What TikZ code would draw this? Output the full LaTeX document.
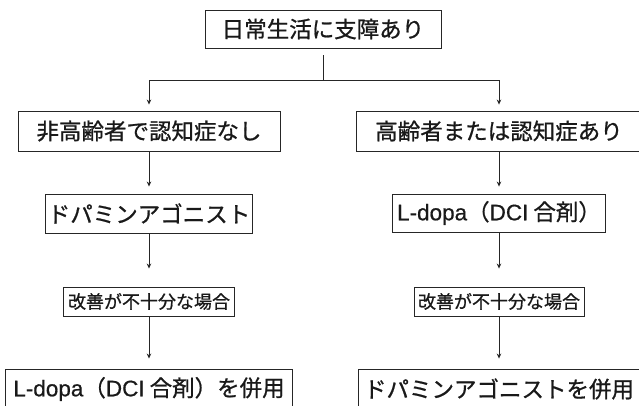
\documentclass[tikz,border=0pt]{standalone}
\usepackage{fontspec}
\setmainfont{Noto Sans CJK JP}[FakeBold=0.8]
\newfontfamily\lat{Liberation Sans}[FakeBold=0.6]
\usetikzlibrary{arrows.meta}
\newcommand{\Ldopa}{{\lat L-dopa}（{\lat DCI} 合剤）}
\begin{document}
\begin{tikzpicture}[x=1pt,y=1pt,
  box/.style={draw=black!85, line width=0.9pt, inner sep=0pt, anchor=center,
    font=\fontsize{22.5}{26}\selectfont, text=black!90},
  smallbox/.style={box, font=\fontsize{18}{21}\selectfont},
  conn/.style={draw=black!85, line width=0.8pt},
  arr/.style={conn, -{Stealth[length=5pt,width=4.5pt]}}]
\clip (0,0) rectangle (639,406);
\useasboundingbox (0,0) rectangle (639,406);
\fill[white] (0,0) rectangle (639,406);
% nodes
\node[box, minimum width=236, minimum height=38] (top) at (323,377) {日常生活に支障あり};
\node[box, minimum width=262, minimum height=40] (L2) at (149,275) {非高齢者で認知症なし};
\node[box, minimum width=286, minimum height=40] (R2) at (499,275) {高齢者または認知症あり};
\node[box, minimum width=207, minimum height=39] (L3) at (149,192.5) {ドパミンアゴニスト};
\node[box, minimum width=213, minimum height=38] (R3) at (499,193) {\Ldopa};
\node[smallbox, minimum width=171, minimum height=29] (L4) at (149,104.5) {改善が不十分な場合};
\node[smallbox, minimum width=170, minimum height=29] (R4) at (499,104.5) {改善が不十分な場合};
\node[box, minimum width=287, minimum height=40] (L5) at (149,17) {\Ldopa を併用};
\node[box, minimum width=282, minimum height=40] (R5) at (499,17) {ドパミンアゴニストを併用};
\coordinate (split) at (323,326);
% connectors
\draw[conn] ([yshift=-7pt]top.south) -- (split);
\draw[arr, shorten >=6pt] (split) -| (L2.north);
\draw[arr, shorten >=6pt] (split) -| (R2.north);
\draw[arr, shorten >=7pt] (L2.south) -- (L3.north);
\draw[arr, shorten >=7pt] (R2.south) -- (R3.north);
\draw[arr, shorten >=18pt] (L3.south) -- (L4.north);
\draw[arr, shorten >=18pt] (R3.south) -- (R4.north);
\draw[arr, shorten >=10pt] (L4.south) -- (L5.north);
\draw[arr, shorten >=10pt] (R4.south) -- (R5.north);
\end{tikzpicture}
\end{document}
